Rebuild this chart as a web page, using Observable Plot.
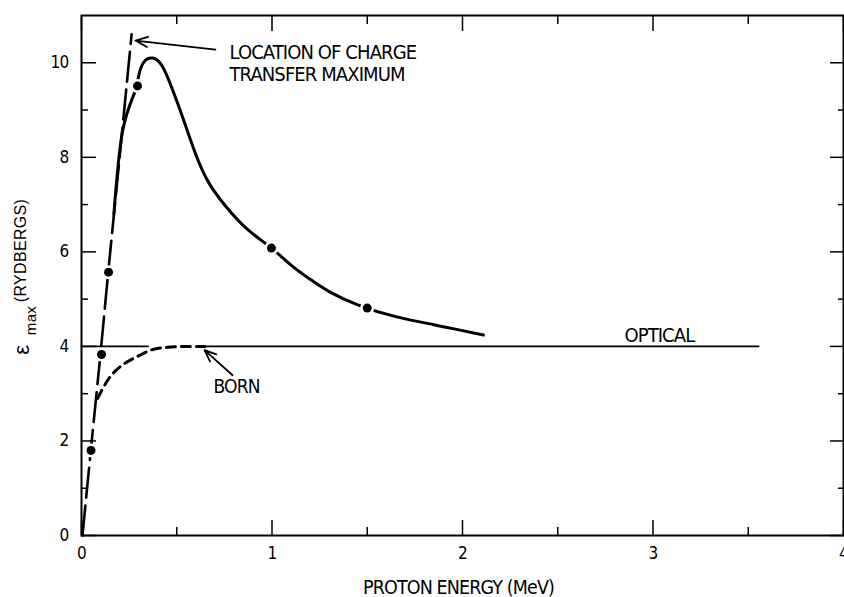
<!DOCTYPE html>
<html><head><meta charset="utf-8">
<script src="https://cdn.jsdelivr.net/npm/d3@7"></script>
<script src="https://cdn.jsdelivr.net/npm/@observablehq/plot@0.6"></script>
<style>
html,body{margin:0;padding:0;background:#fff;}
svg text{letter-spacing:-0.045em;}
svg g[font-family] text{letter-spacing:0.02em;}
</style>
</head><body><div id="chart"></div>
<script>
const NARROW = "'Liberation Sans Narrow','Arial Narrow','DejaVu Sans Condensed',sans-serif";
const REGULAR = "'Liberation Sans',Arial,sans-serif";

// Charge transfer curve (solid)
const ctX = [0.17, 0.215, 0.278, 0.299, 0.325, 0.373, 0.425, 0.478, 0.53, 0.598, 0.667, 0.756, 0.87, 0.997, 1.1, 1.2, 1.3, 1.45, 1.65, 1.85, 1.98, 2.11];
const ctY = [6.8, 8.54, 9.36, 9.7, 10.0, 10.1, 9.92, 9.43, 8.86, 8.08, 7.47, 6.97, 6.48, 6.08, 5.72, 5.42, 5.16, 4.88, 4.63, 4.46, 4.35, 4.24];
// Location of charge transfer maximum (long dashes)
const locX = [0.005, 0.05, 0.1, 0.141, 0.2, 0.263];
const locY = [0, 1.85, 3.85, 5.6, 8.0, 10.6];
// Born (short dashes)
const bornX = [0.085, 0.11, 0.14, 0.17, 0.22, 0.3, 0.37, 0.45, 0.55, 0.65];
const bornY = [2.9, 3.1, 3.3, 3.45, 3.62, 3.8, 3.93, 3.98, 4.0, 4.0];
// Optical (thin solid, interrupted where Born overlays it)
const optX = [0, 0.35, 0.5, 0.66, 3.555];
const optY = [4, 4, NaN, 4, 4];
// Measured points
const ptX = [0.05, 0.105, 0.142, 0.294, 0.997, 1.5];
const ptY = [1.8, 3.83, 5.57, 9.51, 6.08, 4.81];

// Annotation arrows
const arrX1 = [0.703, 0.793];
const arrY1 = [10.28, 3.39];
const arrX2 = [0.283, 0.646];
const arrY2 = [10.47, 3.92];

// Annotation texts
const noteText = ["OPTICAL", "BORN"];
const noteX = [2.85, 0.693];
const noteY = [4.09, 3.01];
const noteSize = [20, 19];
const locText = "LOCATION OF CHARGE\nTRANSFER MAXIMUM";
const locTextX = 0.777;
const locTextY = 10.42;

// Ticks
const xMajor = [0, 1, 2, 3, 4];
const xMinor = [0.5, 1.5, 2.5, 3.5];
const yMajor = [0, 2, 4, 6, 8, 10];
const yMinor = [1, 3, 5, 7, 9];
const xTitle = "PROTON ENERGY (MeV)";

const pts = (X, Y) => X.map((x, i) => ({x, y: Y[i]}));
const arrows = arrX1.map((x1, i) => ({x1, y1: arrY1[i], x2: arrX2[i], y2: arrY2[i]}));
const notes = noteText.map((t, i) => ({t, x: noteX[i], y: noteY[i], s: noteSize[i]}));
const blank = () => "";
const num = d => String(d);

const chart = Plot.plot({
  width: 844, height: 597,
  marginTop: 15, marginRight: 1, marginBottom: 62, marginLeft: 81,
  style: {fontFamily: NARROW, background: "white", color: "black", overflow: "hidden"},
  x: {domain: [0, 4]},
  y: {domain: [0, 11]},
  marks: [
    // ticks (inward)
    Plot.axisX(xMajor, {anchor: "bottom", tickSize: -15, tickPadding: 26, fontSize: 17, tickFormat: num, label: null, strokeWidth: 1.5}),
    Plot.axisX(xMinor, {anchor: "bottom", tickSize: -8, tickFormat: blank, label: null, strokeWidth: 1.5}),
    Plot.axisX(xMajor, {anchor: "top", tickSize: -15, tickFormat: blank, label: null, strokeWidth: 1.5}),
    Plot.axisX(xMinor, {anchor: "top", tickSize: -8, tickFormat: blank, label: null, strokeWidth: 1.5}),
    Plot.axisY(yMajor, {anchor: "left", tickSize: -15, tickPadding: 28, fontSize: 17, tickFormat: num, label: null, strokeWidth: 1.5}),
    Plot.axisY(yMinor, {anchor: "left", tickSize: -7, tickFormat: blank, label: null, strokeWidth: 1.5}),
    Plot.axisY(yMajor, {anchor: "right", tickSize: -14, tickFormat: blank, label: null, strokeWidth: 1.5}),
    Plot.axisY(yMinor, {anchor: "right", tickSize: -6, tickFormat: blank, label: null, strokeWidth: 1.5}),
    // curves
    Plot.line(pts(optX, optY), {x: "x", y: "y", stroke: "black", strokeWidth: 1.6}),
    Plot.line(pts(bornX, bornY), {x: "x", y: "y", stroke: "black", strokeWidth: 3, strokeDasharray: "9,6", curve: "monotone-x"}),
    Plot.line(pts(locX, locY), {x: "x", y: "y", stroke: "black", strokeWidth: 2.6, strokeDasharray: "30,8"}),
    Plot.line(pts(ctX, ctY), {x: "x", y: "y", stroke: "black", strokeWidth: 3, curve: "natural"}),
    Plot.dot(pts(ptX, ptY), {x: "x", y: "y", r: 4.5, fill: "black", stroke: "white", strokeWidth: 5, paintOrder: "stroke"}),
    // annotations
    Plot.arrow(arrows, {x1: "x1", y1: "y1", x2: "x2", y2: "y2", stroke: "black", strokeWidth: 1.8, headLength: 11, headAngle: 45}),
    Plot.text([locText], {x: locTextX, y: locTextY, textAnchor: "start", lineAnchor: "top", lineHeight: 1.12, fontSize: 20, fill: "black"}),
    Plot.text(notes.slice(0, 1), {x: "x", y: "y", text: "t", textAnchor: "start", lineAnchor: "bottom", fontSize: noteSize[0], fill: "black"}),
    Plot.text(notes.slice(1), {x: "x", y: "y", text: "t", textAnchor: "start", lineAnchor: "bottom", fontSize: noteSize[1], fill: "black"}),
    // axis titles
    Plot.text([xTitle], {frameAnchor: "bottom", dx: -4, dy: 58, textAnchor: "middle", lineAnchor: "bottom", fontSize: 19.5, fill: "black"}),
    Plot.text(["(RYDBERGS)"], {frameAnchor: "left", rotate: -90, dx: -61, dy: -25, textAnchor: "middle", lineAnchor: "middle", fontSize: 16, fontFamily: REGULAR, fill: "black"}),
    Plot.text(["max"], {frameAnchor: "left", rotate: -90, dx: -50, dy: 45, textAnchor: "middle", lineAnchor: "middle", fontSize: 15, fontFamily: REGULAR, fill: "black"}),
    Plot.text(["ε"], {frameAnchor: "left", rotate: -90, dx: -60, dy: 74, textAnchor: "middle", lineAnchor: "middle", fontSize: 22, fontFamily: REGULAR, fill: "black"}),
    Plot.frame({stroke: "black", strokeWidth: 2})
  ]
});
document.getElementById("chart").appendChild(chart);
</script>
</body></html>
